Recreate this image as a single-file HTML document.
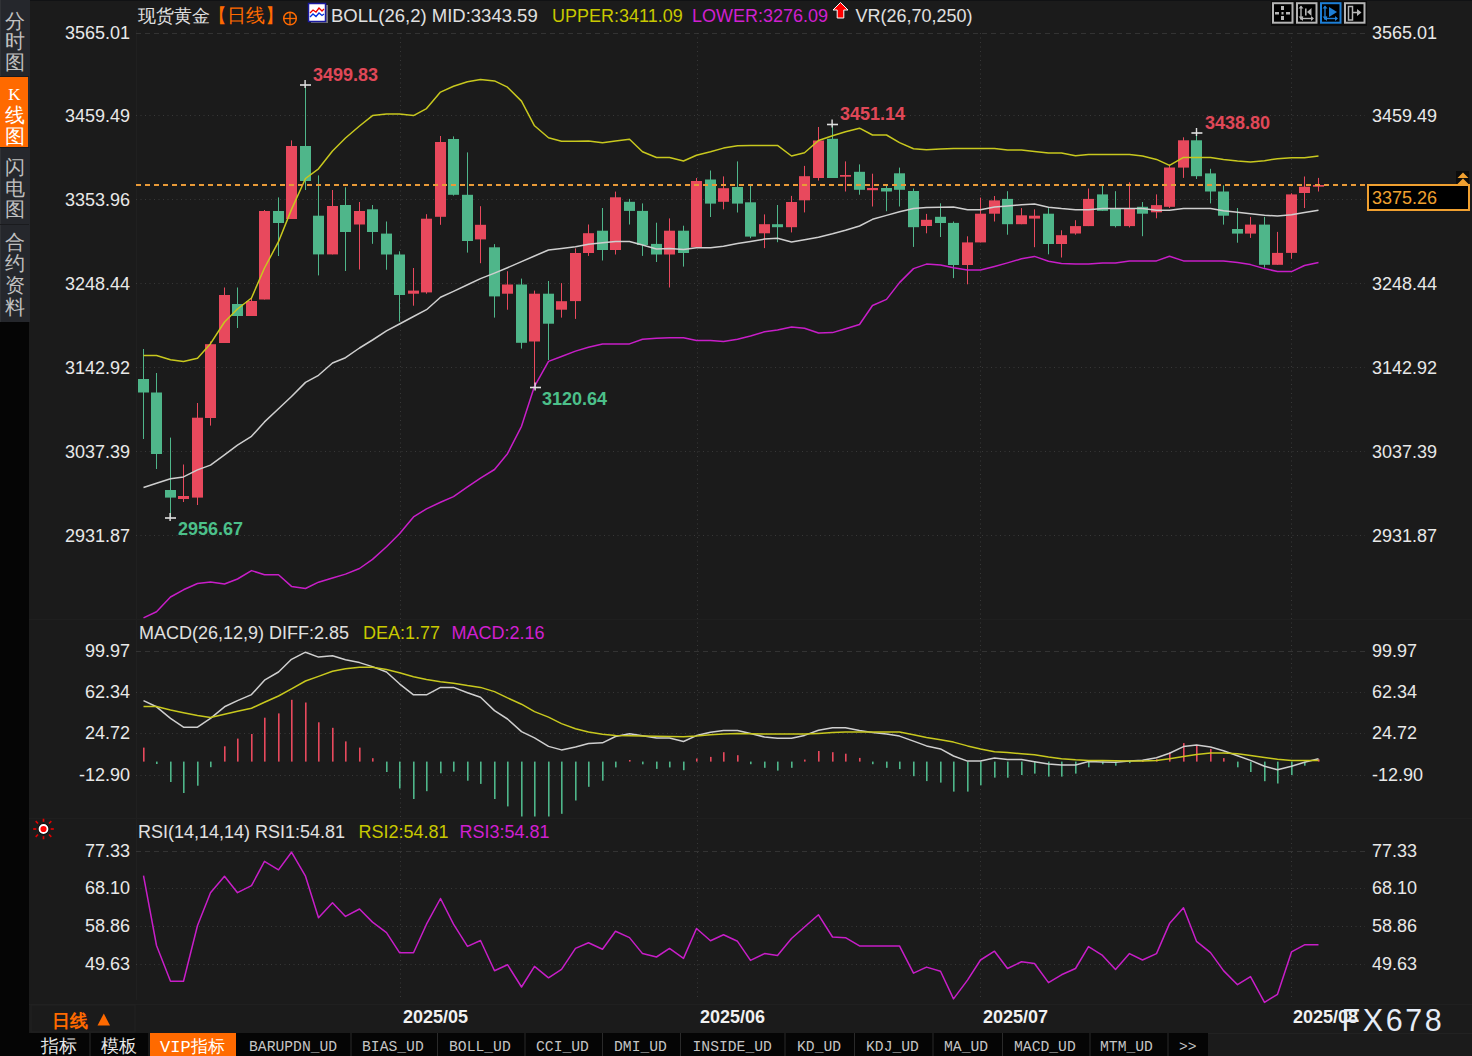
<!DOCTYPE html>
<html><head><meta charset="utf-8"><style>
html,body{margin:0;padding:0;background:#1b1b1b;width:1472px;height:1056px;overflow:hidden}
svg{display:block;font-family:"Liberation Sans", sans-serif}
</style></head><body>
<svg width="1472" height="1056" viewBox="0 0 1472 1056">
<rect x="0" y="0" width="1472" height="1056" fill="#1b1b1b"/>
<rect x="0" y="0" width="1472" height="1" fill="#111214"/>
<rect x="0" y="0" width="30" height="322" fill="#25272c"/>
<rect x="0" y="0" width="1" height="322" fill="#303236"/>
<rect x="0" y="322" width="29" height="734" fill="#050505"/>
<rect x="0" y="76" width="29" height="1" fill="#1a1b1e"/>
<rect x="0" y="147" width="29" height="1" fill="#1a1b1e"/>
<rect x="0" y="224" width="29" height="1" fill="#1a1b1e"/>
<rect x="0" y="77" width="28" height="70" fill="#ff6a00"/>
<text x="14.5" y="27.6" font-size="20" fill="#c0c0c0" text-anchor="middle">分</text>
<text x="14.5" y="48.4" font-size="20" fill="#c0c0c0" text-anchor="middle">时</text>
<text x="14.5" y="69.4" font-size="20" fill="#c0c0c0" text-anchor="middle">图</text>
<text x="14.5" y="121.8" font-size="20" fill="#ffffff" text-anchor="middle">线</text>
<text x="14.5" y="142.8" font-size="20" fill="#ffffff" text-anchor="middle">图</text>
<text x="14.5" y="99.5" font-size="17" fill="#ffffff" text-anchor="middle" font-family="Liberation Serif, serif">K</text>
<text x="14.5" y="173.8" font-size="20" fill="#c0c0c0" text-anchor="middle">闪</text>
<text x="14.5" y="194.8" font-size="20" fill="#c0c0c0" text-anchor="middle">电</text>
<text x="14.5" y="215.8" font-size="20" fill="#c0c0c0" text-anchor="middle">图</text>
<text x="14.5" y="249.2" font-size="20" fill="#c0c0c0" text-anchor="middle">合</text>
<text x="14.5" y="270.4" font-size="20" fill="#c0c0c0" text-anchor="middle">约</text>
<text x="14.5" y="291.8" font-size="20" fill="#c0c0c0" text-anchor="middle">资</text>
<text x="14.5" y="314.2" font-size="20" fill="#c0c0c0" text-anchor="middle">料</text>
<rect x="136" y="30" width="1" height="970" fill="#202020"/>
<rect x="29" y="619" width="1443" height="1" fill="#1f1f1f"/>
<rect x="29" y="818" width="1443" height="1" fill="#1f1f1f"/>
<rect x="29" y="1004" width="1443" height="1" fill="#202020"/>
<rect x="1208" y="1033" width="264" height="1" fill="#222"/>
<line x1="136" y1="33.5" x2="1365" y2="33.5" stroke="#333" stroke-width="1" stroke-dasharray="5 4"/>
<line x1="136" y1="115.5" x2="1365" y2="115.5" stroke="#383838" stroke-width="1" stroke-dasharray="1 3.5"/>
<line x1="136" y1="199.5" x2="1365" y2="199.5" stroke="#383838" stroke-width="1" stroke-dasharray="1 3.5"/>
<line x1="136" y1="283.5" x2="1365" y2="283.5" stroke="#383838" stroke-width="1" stroke-dasharray="1 3.5"/>
<line x1="136" y1="367.5" x2="1365" y2="367.5" stroke="#383838" stroke-width="1" stroke-dasharray="1 3.5"/>
<line x1="136" y1="451.5" x2="1365" y2="451.5" stroke="#383838" stroke-width="1" stroke-dasharray="1 3.5"/>
<line x1="136" y1="535.5" x2="1365" y2="535.5" stroke="#383838" stroke-width="1" stroke-dasharray="1 3.5"/>
<line x1="136" y1="651.5" x2="1365" y2="651.5" stroke="#333" stroke-width="1" stroke-dasharray="5 4"/>
<line x1="136" y1="692.5" x2="1365" y2="692.5" stroke="#383838" stroke-width="1" stroke-dasharray="1 3.5"/>
<line x1="136" y1="733.5" x2="1365" y2="733.5" stroke="#383838" stroke-width="1" stroke-dasharray="1 3.5"/>
<line x1="136" y1="775.5" x2="1365" y2="775.5" stroke="#383838" stroke-width="1" stroke-dasharray="1 3.5"/>
<line x1="136" y1="851.5" x2="1365" y2="851.5" stroke="#333" stroke-width="1" stroke-dasharray="5 4"/>
<line x1="136" y1="888.5" x2="1365" y2="888.5" stroke="#383838" stroke-width="1" stroke-dasharray="1 3.5"/>
<line x1="136" y1="926.5" x2="1365" y2="926.5" stroke="#383838" stroke-width="1" stroke-dasharray="1 3.5"/>
<line x1="136" y1="964.5" x2="1365" y2="964.5" stroke="#383838" stroke-width="1" stroke-dasharray="1 3.5"/>
<line x1="400.5" y1="33" x2="400.5" y2="1000" stroke="#383838" stroke-width="1" stroke-dasharray="1 3.5"/>
<line x1="697.5" y1="33" x2="697.5" y2="1000" stroke="#383838" stroke-width="1" stroke-dasharray="1 3.5"/>
<line x1="980.5" y1="33" x2="980.5" y2="1000" stroke="#383838" stroke-width="1" stroke-dasharray="1 3.5"/>
<line x1="1291.5" y1="33" x2="1291.5" y2="1000" stroke="#383838" stroke-width="1" stroke-dasharray="1 3.5"/>
<rect x="143" y="349.0" width="1" height="90.0" fill="#4fb68a"/>
<rect x="138" y="379.0" width="11" height="13.5" fill="#4fb68a"/>
<rect x="156" y="373.0" width="1" height="96.0" fill="#4fb68a"/>
<rect x="151" y="392.5" width="11" height="61.5" fill="#4fb68a"/>
<rect x="170" y="437.6" width="1" height="80.4" fill="#4fb68a"/>
<rect x="165" y="490.0" width="11" height="7.6" fill="#4fb68a"/>
<rect x="183" y="464.5" width="1" height="37.5" fill="#e8495d"/>
<rect x="178" y="496.0" width="11" height="3.0" fill="#e8495d"/>
<rect x="197" y="403.0" width="1" height="102.0" fill="#e8495d"/>
<rect x="192" y="417.7" width="11" height="79.9" fill="#e8495d"/>
<rect x="210" y="341.4" width="1" height="84.2" fill="#e8495d"/>
<rect x="205" y="344.2" width="11" height="73.8" fill="#e8495d"/>
<rect x="224" y="287.5" width="1" height="55.5" fill="#e8495d"/>
<rect x="219" y="295.0" width="11" height="48.0" fill="#e8495d"/>
<rect x="237" y="287.5" width="1" height="40.5" fill="#4fb68a"/>
<rect x="232" y="304.0" width="11" height="12.0" fill="#4fb68a"/>
<rect x="251" y="298.0" width="1" height="18.0" fill="#e8495d"/>
<rect x="246" y="301.0" width="11" height="15.0" fill="#e8495d"/>
<rect x="264" y="210.0" width="1" height="89.5" fill="#e8495d"/>
<rect x="259" y="211.0" width="11" height="88.5" fill="#e8495d"/>
<rect x="278" y="197.4" width="1" height="58.6" fill="#4fb68a"/>
<rect x="273" y="211.0" width="11" height="12.0" fill="#4fb68a"/>
<rect x="291" y="140.4" width="1" height="78.6" fill="#e8495d"/>
<rect x="286" y="146.0" width="11" height="73.0" fill="#e8495d"/>
<rect x="305" y="85.0" width="1" height="105.0" fill="#4fb68a"/>
<rect x="300" y="146.0" width="11" height="35.0" fill="#4fb68a"/>
<rect x="318" y="175.4" width="1" height="100.0" fill="#4fb68a"/>
<rect x="313" y="215.7" width="11" height="38.7" fill="#4fb68a"/>
<rect x="332" y="190.0" width="1" height="64.4" fill="#e8495d"/>
<rect x="327" y="206.0" width="11" height="48.4" fill="#e8495d"/>
<rect x="345" y="187.3" width="1" height="83.7" fill="#4fb68a"/>
<rect x="340" y="205.0" width="11" height="27.0" fill="#4fb68a"/>
<rect x="359" y="202.0" width="1" height="67.5" fill="#e8495d"/>
<rect x="354" y="211.0" width="11" height="13.5" fill="#e8495d"/>
<rect x="372" y="205.0" width="1" height="38.8" fill="#4fb68a"/>
<rect x="367" y="209.3" width="11" height="22.7" fill="#4fb68a"/>
<rect x="386" y="221.5" width="1" height="48.2" fill="#4fb68a"/>
<rect x="381" y="233.6" width="11" height="20.9" fill="#4fb68a"/>
<rect x="399" y="251.3" width="1" height="70.3" fill="#4fb68a"/>
<rect x="394" y="254.5" width="11" height="40.5" fill="#4fb68a"/>
<rect x="413" y="268.0" width="1" height="37.7" fill="#e8495d"/>
<rect x="408" y="290.6" width="11" height="3.1" fill="#e8495d"/>
<rect x="426" y="214.2" width="1" height="79.5" fill="#e8495d"/>
<rect x="421" y="218.7" width="11" height="73.7" fill="#e8495d"/>
<rect x="440" y="136.0" width="1" height="88.8" fill="#e8495d"/>
<rect x="435" y="142.0" width="11" height="74.8" fill="#e8495d"/>
<rect x="453" y="136.4" width="1" height="59.2" fill="#4fb68a"/>
<rect x="448" y="139.0" width="11" height="55.8" fill="#4fb68a"/>
<rect x="467" y="152.4" width="1" height="100.2" fill="#4fb68a"/>
<rect x="462" y="194.8" width="11" height="46.2" fill="#4fb68a"/>
<rect x="480" y="206.2" width="1" height="57.0" fill="#e8495d"/>
<rect x="475" y="224.8" width="11" height="14.6" fill="#e8495d"/>
<rect x="494" y="244.1" width="1" height="73.5" fill="#4fb68a"/>
<rect x="489" y="247.3" width="11" height="49.1" fill="#4fb68a"/>
<rect x="507" y="271.2" width="1" height="38.5" fill="#e8495d"/>
<rect x="502" y="284.5" width="11" height="9.2" fill="#e8495d"/>
<rect x="521" y="278.6" width="1" height="70.0" fill="#4fb68a"/>
<rect x="516" y="284.5" width="11" height="58.3" fill="#4fb68a"/>
<rect x="534" y="290.6" width="1" height="96.7" fill="#e8495d"/>
<rect x="529" y="293.7" width="11" height="47.8" fill="#e8495d"/>
<rect x="548" y="281.0" width="1" height="79.0" fill="#4fb68a"/>
<rect x="543" y="293.7" width="11" height="30.0" fill="#4fb68a"/>
<rect x="561" y="283.1" width="1" height="34.5" fill="#e8495d"/>
<rect x="556" y="301.2" width="11" height="8.5" fill="#e8495d"/>
<rect x="575" y="248.4" width="1" height="70.5" fill="#e8495d"/>
<rect x="570" y="253.0" width="11" height="48.1" fill="#e8495d"/>
<rect x="588" y="224.5" width="1" height="31.4" fill="#e8495d"/>
<rect x="583" y="233.2" width="11" height="19.8" fill="#e8495d"/>
<rect x="602" y="208.0" width="1" height="52.5" fill="#4fb68a"/>
<rect x="597" y="230.7" width="11" height="19.3" fill="#4fb68a"/>
<rect x="615" y="191.6" width="1" height="62.9" fill="#e8495d"/>
<rect x="610" y="197.3" width="11" height="52.7" fill="#e8495d"/>
<rect x="629" y="198.9" width="1" height="25.6" fill="#4fb68a"/>
<rect x="624" y="201.8" width="11" height="9.1" fill="#4fb68a"/>
<rect x="642" y="203.4" width="1" height="52.5" fill="#4fb68a"/>
<rect x="637" y="210.9" width="11" height="34.1" fill="#4fb68a"/>
<rect x="656" y="222.7" width="1" height="39.3" fill="#4fb68a"/>
<rect x="651" y="243.9" width="11" height="10.6" fill="#4fb68a"/>
<rect x="669" y="218.4" width="1" height="69.1" fill="#e8495d"/>
<rect x="664" y="230.7" width="11" height="23.8" fill="#e8495d"/>
<rect x="683" y="225.7" width="1" height="40.9" fill="#4fb68a"/>
<rect x="678" y="230.7" width="11" height="22.3" fill="#4fb68a"/>
<rect x="696" y="178.0" width="1" height="69.3" fill="#e8495d"/>
<rect x="691" y="181.0" width="11" height="66.3" fill="#e8495d"/>
<rect x="710" y="170.5" width="1" height="46.5" fill="#4fb68a"/>
<rect x="705" y="179.5" width="11" height="24.1" fill="#4fb68a"/>
<rect x="723" y="176.4" width="1" height="32.9" fill="#e8495d"/>
<rect x="718" y="188.2" width="11" height="13.6" fill="#e8495d"/>
<rect x="737" y="161.4" width="1" height="51.1" fill="#4fb68a"/>
<rect x="732" y="187.0" width="11" height="16.6" fill="#4fb68a"/>
<rect x="750" y="184.8" width="1" height="53.4" fill="#4fb68a"/>
<rect x="745" y="202.3" width="11" height="34.3" fill="#4fb68a"/>
<rect x="764" y="214.4" width="1" height="33.7" fill="#e8495d"/>
<rect x="759" y="224.2" width="11" height="9.1" fill="#e8495d"/>
<rect x="777" y="205.0" width="1" height="37.2" fill="#4fb68a"/>
<rect x="772" y="224.2" width="11" height="3.0" fill="#4fb68a"/>
<rect x="791" y="195.9" width="1" height="36.5" fill="#e8495d"/>
<rect x="786" y="202.0" width="11" height="25.2" fill="#e8495d"/>
<rect x="804" y="165.9" width="1" height="46.5" fill="#e8495d"/>
<rect x="799" y="176.2" width="11" height="24.1" fill="#e8495d"/>
<rect x="818" y="127.0" width="1" height="53.6" fill="#e8495d"/>
<rect x="813" y="140.5" width="11" height="37.5" fill="#e8495d"/>
<rect x="832" y="124.5" width="1" height="53.5" fill="#4fb68a"/>
<rect x="827" y="138.8" width="11" height="39.2" fill="#4fb68a"/>
<rect x="845" y="161.4" width="1" height="30.1" fill="#e8495d"/>
<rect x="840" y="175.0" width="11" height="1.7" fill="#e8495d"/>
<rect x="859" y="164.4" width="1" height="30.3" fill="#4fb68a"/>
<rect x="854" y="171.8" width="11" height="18.0" fill="#4fb68a"/>
<rect x="872" y="173.7" width="1" height="32.8" fill="#e8495d"/>
<rect x="867" y="188.0" width="11" height="2.2" fill="#e8495d"/>
<rect x="886" y="184.8" width="1" height="26.4" fill="#4fb68a"/>
<rect x="881" y="188.0" width="11" height="3.5" fill="#4fb68a"/>
<rect x="899" y="167.6" width="1" height="38.9" fill="#4fb68a"/>
<rect x="894" y="173.3" width="11" height="16.5" fill="#4fb68a"/>
<rect x="913" y="188.5" width="1" height="58.4" fill="#4fb68a"/>
<rect x="908" y="191.0" width="11" height="36.2" fill="#4fb68a"/>
<rect x="926" y="213.9" width="1" height="19.4" fill="#e8495d"/>
<rect x="921" y="219.8" width="11" height="6.2" fill="#e8495d"/>
<rect x="940" y="203.3" width="1" height="33.7" fill="#4fb68a"/>
<rect x="935" y="216.8" width="11" height="6.2" fill="#4fb68a"/>
<rect x="953" y="221.5" width="1" height="56.6" fill="#4fb68a"/>
<rect x="948" y="222.9" width="11" height="42.1" fill="#4fb68a"/>
<rect x="967" y="236.3" width="1" height="48.0" fill="#e8495d"/>
<rect x="962" y="242.4" width="11" height="22.6" fill="#e8495d"/>
<rect x="980" y="197.6" width="1" height="44.8" fill="#e8495d"/>
<rect x="975" y="213.7" width="11" height="28.7" fill="#e8495d"/>
<rect x="994" y="196.0" width="1" height="25.5" fill="#e8495d"/>
<rect x="989" y="200.4" width="11" height="13.3" fill="#e8495d"/>
<rect x="1007" y="191.2" width="1" height="43.5" fill="#4fb68a"/>
<rect x="1002" y="198.9" width="11" height="25.3" fill="#4fb68a"/>
<rect x="1021" y="208.1" width="1" height="16.1" fill="#e8495d"/>
<rect x="1016" y="215.3" width="11" height="8.9" fill="#e8495d"/>
<rect x="1034" y="209.4" width="1" height="37.8" fill="#e8495d"/>
<rect x="1029" y="215.7" width="11" height="2.9" fill="#e8495d"/>
<rect x="1048" y="208.1" width="1" height="46.2" fill="#4fb68a"/>
<rect x="1043" y="213.7" width="11" height="30.3" fill="#4fb68a"/>
<rect x="1061" y="230.3" width="1" height="27.2" fill="#e8495d"/>
<rect x="1056" y="235.2" width="11" height="8.8" fill="#e8495d"/>
<rect x="1075" y="220.2" width="1" height="14.5" fill="#e8495d"/>
<rect x="1070" y="226.1" width="11" height="7.4" fill="#e8495d"/>
<rect x="1088" y="188.5" width="1" height="37.6" fill="#e8495d"/>
<rect x="1083" y="198.9" width="11" height="27.2" fill="#e8495d"/>
<rect x="1102" y="184.8" width="1" height="26.0" fill="#4fb68a"/>
<rect x="1097" y="194.4" width="11" height="16.4" fill="#4fb68a"/>
<rect x="1115" y="191.2" width="1" height="36.2" fill="#4fb68a"/>
<rect x="1110" y="208.4" width="11" height="17.7" fill="#4fb68a"/>
<rect x="1129" y="182.3" width="1" height="45.1" fill="#e8495d"/>
<rect x="1124" y="208.4" width="11" height="17.7" fill="#e8495d"/>
<rect x="1142" y="202.0" width="1" height="34.2" fill="#4fb68a"/>
<rect x="1137" y="206.8" width="11" height="6.9" fill="#4fb68a"/>
<rect x="1156" y="194.4" width="1" height="23.9" fill="#e8495d"/>
<rect x="1151" y="205.1" width="11" height="7.2" fill="#e8495d"/>
<rect x="1169" y="164.6" width="1" height="43.4" fill="#e8495d"/>
<rect x="1164" y="167.5" width="11" height="39.3" fill="#e8495d"/>
<rect x="1183" y="137.3" width="1" height="40.6" fill="#e8495d"/>
<rect x="1178" y="140.3" width="11" height="27.3" fill="#e8495d"/>
<rect x="1196" y="133.0" width="1" height="46.0" fill="#4fb68a"/>
<rect x="1191" y="140.3" width="11" height="35.9" fill="#4fb68a"/>
<rect x="1210" y="168.8" width="1" height="34.6" fill="#4fb68a"/>
<rect x="1205" y="173.4" width="11" height="18.1" fill="#4fb68a"/>
<rect x="1223" y="185.4" width="1" height="39.2" fill="#4fb68a"/>
<rect x="1218" y="191.5" width="11" height="24.2" fill="#4fb68a"/>
<rect x="1237" y="208.0" width="1" height="34.7" fill="#4fb68a"/>
<rect x="1232" y="229.0" width="11" height="4.6" fill="#4fb68a"/>
<rect x="1250" y="216.9" width="1" height="21.0" fill="#e8495d"/>
<rect x="1245" y="224.6" width="11" height="9.0" fill="#e8495d"/>
<rect x="1264" y="216.9" width="1" height="50.8" fill="#4fb68a"/>
<rect x="1259" y="224.6" width="11" height="40.2" fill="#4fb68a"/>
<rect x="1277" y="231.9" width="1" height="32.9" fill="#e8495d"/>
<rect x="1272" y="252.9" width="11" height="11.9" fill="#e8495d"/>
<rect x="1291" y="193.2" width="1" height="65.5" fill="#e8495d"/>
<rect x="1286" y="194.4" width="11" height="58.5" fill="#e8495d"/>
<rect x="1304" y="176.5" width="1" height="31.5" fill="#e8495d"/>
<rect x="1299" y="186.7" width="11" height="6.3" fill="#e8495d"/>
<rect x="1318" y="177.9" width="1" height="13.6" fill="#e8495d"/>
<rect x="1313" y="185.0" width="11" height="1.7" fill="#e8495d"/>
<polyline points="143.5,355.5 156.5,355.5 170.5,359.8 183.5,361.6 197.5,358.2 210.5,343.7 224.5,322.0 237.5,309.0 251.5,298.0 264.5,268.0 278.5,241.7 291.5,209.4 305.5,178.5 318.5,168.8 332.5,151.0 345.5,138.0 359.5,126.0 372.5,115.6 386.5,114.1 399.5,114.1 413.5,115.6 426.5,108.6 440.5,92.1 453.5,86.2 467.5,81.8 480.5,79.4 494.5,80.9 507.5,87.2 521.5,101.1 534.5,125.8 548.5,137.7 561.5,141.2 575.5,141.2 588.5,141.1 602.5,142.7 615.5,141.0 629.5,139.3 642.5,151.8 656.5,157.5 669.5,157.5 683.5,161.0 696.5,155.2 710.5,151.7 723.5,148.1 737.5,145.7 750.5,145.6 764.5,145.5 777.5,145.4 791.5,156.0 804.5,152.8 818.5,140.5 832.5,135.7 845.5,131.8 859.5,128.2 872.5,135.0 886.5,135.0 899.5,142.6 913.5,148.8 926.5,149.7 940.5,148.9 953.5,148.5 967.5,148.5 980.5,148.5 994.5,148.5 1007.5,150.1 1021.5,150.1 1034.5,151.4 1048.5,153.0 1061.5,153.0 1075.5,155.8 1088.5,154.5 1102.5,154.5 1115.5,154.5 1129.5,154.5 1142.5,156.0 1156.5,159.4 1169.5,165.4 1183.5,157.4 1196.5,157.4 1210.5,157.4 1223.5,159.4 1237.5,160.9 1250.5,162.0 1264.5,160.7 1277.5,158.7 1291.5,157.7 1304.5,157.7 1318.5,156.0" fill="none" stroke="#c8c81e" stroke-width="1.5" stroke-linejoin="round"/>
<polyline points="143.5,487.5 156.5,483.2 170.5,478.7 183.5,476.9 197.5,469.9 210.5,465.1 224.5,454.8 237.5,445.1 251.5,436.3 264.5,421.9 278.5,408.8 291.5,396.5 305.5,382.4 318.5,375.3 332.5,363.0 345.5,357.7 359.5,348.0 372.5,340.0 386.5,330.9 399.5,324.0 413.5,316.5 426.5,309.7 440.5,297.2 453.5,291.4 467.5,284.8 480.5,278.6 494.5,273.1 507.5,267.7 521.5,261.6 534.5,256.0 548.5,250.0 561.5,248.6 575.5,246.8 588.5,244.3 602.5,242.7 615.5,241.6 629.5,241.6 642.5,245.0 656.5,249.0 669.5,248.4 683.5,249.5 696.5,247.7 710.5,247.7 723.5,246.3 737.5,243.6 750.5,241.4 764.5,239.1 777.5,238.3 791.5,242.0 804.5,239.8 818.5,237.2 832.5,233.8 845.5,230.3 859.5,226.0 872.5,219.3 886.5,215.4 899.5,211.7 913.5,208.5 926.5,207.5 940.5,207.3 953.5,207.0 967.5,209.7 980.5,209.7 994.5,206.9 1007.5,205.9 1021.5,204.7 1034.5,204.0 1048.5,207.2 1061.5,208.6 1075.5,209.7 1088.5,209.7 1102.5,208.6 1115.5,208.6 1129.5,208.6 1142.5,208.6 1156.5,210.3 1169.5,210.3 1183.5,208.6 1196.5,208.6 1210.5,208.6 1223.5,210.8 1237.5,212.3 1250.5,213.7 1264.5,215.2 1277.5,216.0 1291.5,214.7 1304.5,212.4 1318.5,210.3" fill="none" stroke="#cfcfcf" stroke-width="1.5" stroke-linejoin="round"/>
<polyline points="143.5,617.9 156.5,611.7 170.5,597.0 183.5,589.8 197.5,583.5 210.5,581.9 224.5,584.0 237.5,579.0 251.5,570.6 264.5,574.8 278.5,574.8 291.5,586.4 305.5,588.5 318.5,582.2 332.5,578.0 345.5,574.1 359.5,568.5 372.5,559.4 386.5,546.8 399.5,533.8 413.5,516.9 426.5,508.9 440.5,502.2 453.5,496.6 467.5,486.9 480.5,478.1 494.5,469.5 507.5,453.7 521.5,426.3 534.5,386.3 548.5,361.4 561.5,356.5 575.5,351.1 588.5,347.3 602.5,343.9 615.5,343.9 629.5,343.9 642.5,339.3 656.5,338.3 669.5,337.7 683.5,337.7 696.5,340.5 710.5,340.5 723.5,341.4 737.5,339.3 750.5,336.0 764.5,331.8 777.5,330.1 791.5,327.0 804.5,328.2 818.5,333.0 832.5,332.6 845.5,328.7 859.5,324.5 872.5,305.5 886.5,299.4 899.5,282.6 913.5,268.6 926.5,264.1 940.5,265.0 953.5,267.7 967.5,270.1 980.5,270.1 994.5,266.4 1007.5,262.9 1021.5,258.8 1034.5,256.4 1048.5,261.2 1061.5,263.4 1075.5,264.0 1088.5,264.0 1102.5,262.9 1115.5,262.9 1129.5,261.1 1142.5,261.0 1156.5,260.9 1169.5,256.3 1183.5,260.9 1196.5,260.9 1210.5,260.9 1223.5,260.9 1237.5,262.6 1250.5,264.6 1264.5,268.6 1277.5,271.6 1291.5,271.6 1304.5,265.5 1318.5,262.6" fill="none" stroke="#c81ec8" stroke-width="1.5" stroke-linejoin="round"/>
<line x1="136" y1="185" x2="1367" y2="185" stroke="#e89a38" stroke-width="2" stroke-dasharray="5 4"/>
<rect x="300" y="84.2" width="11" height="1.6" fill="#e0e0e0"/>
<rect x="304.4" y="80" width="1.4" height="8" fill="#e0e0e0"/>
<rect x="827" y="123.7" width="11" height="1.6" fill="#e0e0e0"/>
<rect x="831.4" y="119.5" width="1.4" height="8" fill="#e0e0e0"/>
<rect x="1191.4" y="132.2" width="11" height="1.6" fill="#e0e0e0"/>
<rect x="1195.8000000000002" y="128" width="1.4" height="8" fill="#e0e0e0"/>
<rect x="165" y="517.2" width="11" height="1.6" fill="#e0e0e0"/>
<rect x="169.4" y="513" width="1.4" height="8" fill="#e0e0e0"/>
<rect x="530" y="386.7" width="11" height="1.6" fill="#e0e0e0"/>
<rect x="534.4" y="382.5" width="1.4" height="8" fill="#e0e0e0"/>
<text x="313" y="81" font-size="18" font-weight="bold" fill="#e04858">3499.83</text>
<text x="840" y="120" font-size="18" font-weight="bold" fill="#e04858">3451.14</text>
<text x="1205" y="128.5" font-size="18" font-weight="bold" fill="#e04858">3438.80</text>
<text x="178" y="535" font-size="18" font-weight="bold" fill="#4cc08a">2956.67</text>
<text x="542" y="404.5" font-size="18" font-weight="bold" fill="#4cc08a">3120.64</text>
<rect x="143" y="747.6" width="1.6" height="14.0" fill="#e8495d"/>
<rect x="156" y="761.6" width="1.6" height="2.4" fill="#4fb68a"/>
<rect x="170" y="761.6" width="1.6" height="20.4" fill="#4fb68a"/>
<rect x="183" y="761.6" width="1.6" height="31.4" fill="#4fb68a"/>
<rect x="197" y="761.6" width="1.6" height="24.1" fill="#4fb68a"/>
<rect x="210" y="761.6" width="1.6" height="5.6" fill="#4fb68a"/>
<rect x="224" y="746.3" width="1.6" height="15.3" fill="#e8495d"/>
<rect x="237" y="738.6" width="1.6" height="23.0" fill="#e8495d"/>
<rect x="251" y="734.0" width="1.6" height="27.6" fill="#e8495d"/>
<rect x="264" y="717.7" width="1.6" height="43.9" fill="#e8495d"/>
<rect x="278" y="713.4" width="1.6" height="48.2" fill="#e8495d"/>
<rect x="291" y="699.8" width="1.6" height="61.8" fill="#e8495d"/>
<rect x="305" y="702.5" width="1.6" height="59.1" fill="#e8495d"/>
<rect x="318" y="722.3" width="1.6" height="39.3" fill="#e8495d"/>
<rect x="332" y="727.8" width="1.6" height="33.8" fill="#e8495d"/>
<rect x="345" y="741.4" width="1.6" height="20.2" fill="#e8495d"/>
<rect x="359" y="747.6" width="1.6" height="14.0" fill="#e8495d"/>
<rect x="372" y="758.2" width="1.6" height="3.4" fill="#e8495d"/>
<rect x="386" y="761.6" width="1.6" height="10.4" fill="#4fb68a"/>
<rect x="399" y="761.6" width="1.6" height="26.9" fill="#4fb68a"/>
<rect x="413" y="761.6" width="1.6" height="37.4" fill="#4fb68a"/>
<rect x="426" y="761.6" width="1.6" height="29.6" fill="#4fb68a"/>
<rect x="440" y="761.6" width="1.6" height="11.7" fill="#4fb68a"/>
<rect x="453" y="761.6" width="1.6" height="10.0" fill="#4fb68a"/>
<rect x="467" y="761.6" width="1.6" height="19.1" fill="#4fb68a"/>
<rect x="480" y="761.6" width="1.6" height="22.3" fill="#4fb68a"/>
<rect x="494" y="761.6" width="1.6" height="37.4" fill="#4fb68a"/>
<rect x="507" y="761.6" width="1.6" height="44.8" fill="#4fb68a"/>
<rect x="521" y="761.6" width="1.6" height="54.9" fill="#4fb68a"/>
<rect x="534" y="761.6" width="1.6" height="54.9" fill="#4fb68a"/>
<rect x="548" y="761.6" width="1.6" height="54.9" fill="#4fb68a"/>
<rect x="561" y="761.6" width="1.6" height="52.2" fill="#4fb68a"/>
<rect x="575" y="761.6" width="1.6" height="38.9" fill="#4fb68a"/>
<rect x="588" y="761.6" width="1.6" height="25.2" fill="#4fb68a"/>
<rect x="602" y="761.6" width="1.6" height="19.1" fill="#4fb68a"/>
<rect x="615" y="761.6" width="1.6" height="5.8" fill="#4fb68a"/>
<rect x="629" y="760.0" width="1.6" height="1.6" fill="#e8495d"/>
<rect x="642" y="761.6" width="1.6" height="2.7" fill="#4fb68a"/>
<rect x="656" y="761.6" width="1.6" height="7.3" fill="#4fb68a"/>
<rect x="669" y="761.6" width="1.6" height="5.8" fill="#4fb68a"/>
<rect x="683" y="761.6" width="1.6" height="8.6" fill="#4fb68a"/>
<rect x="696" y="758.5" width="1.6" height="3.1" fill="#e8495d"/>
<rect x="710" y="756.9" width="1.6" height="4.7" fill="#e8495d"/>
<rect x="723" y="752.2" width="1.6" height="9.4" fill="#e8495d"/>
<rect x="737" y="755.2" width="1.6" height="6.4" fill="#e8495d"/>
<rect x="750" y="761.6" width="1.6" height="2.6" fill="#4fb68a"/>
<rect x="764" y="761.6" width="1.6" height="6.2" fill="#4fb68a"/>
<rect x="777" y="761.6" width="1.6" height="9.0" fill="#4fb68a"/>
<rect x="791" y="761.6" width="1.6" height="6.2" fill="#4fb68a"/>
<rect x="804" y="759.6" width="1.6" height="2.0" fill="#e8495d"/>
<rect x="818" y="751.0" width="1.6" height="10.6" fill="#e8495d"/>
<rect x="832" y="752.2" width="1.6" height="9.4" fill="#e8495d"/>
<rect x="845" y="753.7" width="1.6" height="7.9" fill="#e8495d"/>
<rect x="859" y="757.9" width="1.6" height="3.7" fill="#e8495d"/>
<rect x="872" y="761.6" width="1.6" height="2.6" fill="#4fb68a"/>
<rect x="886" y="761.6" width="1.6" height="6.2" fill="#4fb68a"/>
<rect x="899" y="761.6" width="1.6" height="7.5" fill="#4fb68a"/>
<rect x="913" y="761.6" width="1.6" height="14.6" fill="#4fb68a"/>
<rect x="926" y="761.6" width="1.6" height="19.5" fill="#4fb68a"/>
<rect x="940" y="761.6" width="1.6" height="21.0" fill="#4fb68a"/>
<rect x="953" y="761.6" width="1.6" height="30.0" fill="#4fb68a"/>
<rect x="967" y="761.6" width="1.6" height="30.0" fill="#4fb68a"/>
<rect x="980" y="761.6" width="1.6" height="23.7" fill="#4fb68a"/>
<rect x="994" y="761.6" width="1.6" height="16.0" fill="#4fb68a"/>
<rect x="1007" y="761.6" width="1.6" height="16.1" fill="#4fb68a"/>
<rect x="1021" y="761.6" width="1.6" height="13.4" fill="#4fb68a"/>
<rect x="1034" y="761.6" width="1.6" height="12.0" fill="#4fb68a"/>
<rect x="1048" y="761.6" width="1.6" height="15.0" fill="#4fb68a"/>
<rect x="1061" y="761.6" width="1.6" height="15.0" fill="#4fb68a"/>
<rect x="1075" y="761.6" width="1.6" height="12.0" fill="#4fb68a"/>
<rect x="1088" y="761.6" width="1.6" height="5.7" fill="#4fb68a"/>
<rect x="1102" y="761.6" width="1.6" height="2.7" fill="#4fb68a"/>
<rect x="1115" y="761.6" width="1.6" height="4.1" fill="#4fb68a"/>
<rect x="1129" y="761.6" width="1.6" height="1.5" fill="#4fb68a"/>
<rect x="1142" y="760.5" width="1.6" height="1.5" fill="#e8495d"/>
<rect x="1156" y="759.3" width="1.6" height="2.3" fill="#e8495d"/>
<rect x="1169" y="752.3" width="1.6" height="9.3" fill="#e8495d"/>
<rect x="1183" y="743.1" width="1.6" height="18.5" fill="#e8495d"/>
<rect x="1196" y="744.9" width="1.6" height="16.7" fill="#e8495d"/>
<rect x="1210" y="748.9" width="1.6" height="12.7" fill="#e8495d"/>
<rect x="1223" y="758.1" width="1.6" height="3.5" fill="#e8495d"/>
<rect x="1237" y="761.6" width="1.6" height="5.7" fill="#4fb68a"/>
<rect x="1250" y="761.6" width="1.6" height="10.4" fill="#4fb68a"/>
<rect x="1264" y="761.6" width="1.6" height="19.6" fill="#4fb68a"/>
<rect x="1277" y="761.6" width="1.6" height="21.9" fill="#4fb68a"/>
<rect x="1291" y="761.6" width="1.6" height="13.4" fill="#4fb68a"/>
<rect x="1304" y="761.6" width="1.6" height="4.1" fill="#4fb68a"/>
<rect x="1318" y="759.3" width="1.6" height="2.3" fill="#e8495d"/>
<polyline points="143.5,700.6 156.5,706.8 170.5,718.3 183.5,727.2 197.5,727.2 210.5,718.3 224.5,706.8 237.5,700.6 251.5,694.6 264.5,680.2 278.5,672.0 291.5,659.3 305.5,652.2 318.5,657.1 332.5,655.8 345.5,659.8 359.5,662.6 372.5,666.6 386.5,672.0 399.5,683.8 413.5,694.8 426.5,694.8 440.5,687.4 453.5,687.4 467.5,692.7 480.5,697.3 494.5,710.6 507.5,719.0 521.5,731.6 534.5,737.9 548.5,746.4 561.5,749.9 575.5,747.0 588.5,743.6 602.5,742.8 615.5,736.5 629.5,733.7 642.5,735.8 656.5,737.9 669.5,737.9 683.5,741.5 696.5,735.6 710.5,732.2 723.5,730.5 737.5,730.5 750.5,733.6 764.5,737.0 777.5,738.3 791.5,738.3 804.5,735.4 818.5,730.3 832.5,727.8 845.5,727.8 859.5,730.5 872.5,732.4 886.5,733.9 899.5,736.1 913.5,741.1 926.5,745.9 940.5,748.9 953.5,756.0 967.5,761.1 980.5,761.1 994.5,757.9 1007.5,759.4 1021.5,759.6 1034.5,761.7 1048.5,764.1 1061.5,765.0 1075.5,765.0 1088.5,761.6 1102.5,762.0 1115.5,762.3 1129.5,761.1 1142.5,760.2 1156.5,757.7 1169.5,753.2 1183.5,746.6 1196.5,745.1 1210.5,747.0 1223.5,750.7 1237.5,755.8 1250.5,760.4 1264.5,766.2 1277.5,769.7 1291.5,766.2 1304.5,762.3 1318.5,758.8" fill="none" stroke="#cfcfcf" stroke-width="1.5" stroke-linejoin="round"/>
<polyline points="143.5,706.6 156.5,706.6 170.5,710.1 183.5,712.7 197.5,715.5 210.5,717.4 224.5,714.2 237.5,711.3 251.5,708.2 264.5,702.3 278.5,696.0 291.5,688.8 305.5,681.0 318.5,676.4 332.5,671.3 345.5,668.8 359.5,667.2 372.5,667.2 386.5,669.5 399.5,672.8 413.5,676.7 426.5,679.6 440.5,681.7 453.5,683.2 467.5,685.6 480.5,687.4 494.5,691.6 507.5,697.9 521.5,704.2 534.5,711.6 548.5,717.1 561.5,723.6 575.5,728.7 588.5,732.0 602.5,734.3 615.5,735.4 629.5,735.7 642.5,736.0 656.5,736.3 669.5,736.6 683.5,736.8 696.5,736.1 710.5,734.8 723.5,733.9 737.5,733.4 750.5,733.7 764.5,734.0 777.5,734.1 791.5,734.1 804.5,734.1 818.5,733.4 832.5,732.6 845.5,732.0 859.5,732.0 872.5,732.0 886.5,732.0 899.5,732.0 913.5,734.8 926.5,737.5 940.5,739.8 953.5,742.1 967.5,745.9 980.5,748.9 994.5,751.8 1007.5,752.6 1021.5,753.7 1034.5,754.8 1048.5,757.0 1061.5,758.7 1075.5,759.8 1088.5,760.5 1102.5,760.6 1115.5,760.7 1129.5,760.9 1142.5,761.0 1156.5,760.5 1169.5,758.8 1183.5,756.6 1196.5,754.4 1210.5,753.0 1223.5,753.0 1237.5,753.8 1250.5,755.5 1264.5,757.4 1277.5,759.2 1291.5,760.4 1304.5,760.4 1318.5,760.4" fill="none" stroke="#c8c81e" stroke-width="1.5" stroke-linejoin="round"/>
<polyline points="143.5,875.6 156.5,945.5 170.5,981.2 183.5,981.2 197.5,925.5 210.5,892.7 224.5,876.2 237.5,892.7 251.5,885.6 264.5,861.4 278.5,869.9 291.5,852.2 305.5,876.2 318.5,917.8 332.5,902.7 345.5,916.4 359.5,909.0 372.5,922.1 386.5,932.7 399.5,952.7 413.5,952.7 426.5,924.2 440.5,898.5 453.5,924.2 467.5,946.4 480.5,940.5 494.5,970.7 507.5,964.7 521.5,987.0 534.5,966.4 548.5,977.8 561.5,969.3 575.5,948.4 588.5,942.7 602.5,949.3 615.5,931.3 629.5,937.6 642.5,953.6 656.5,957.0 669.5,948.4 683.5,958.4 696.5,928.5 710.5,940.7 723.5,934.8 737.5,941.3 750.5,960.4 764.5,953.6 777.5,955.6 791.5,938.5 804.5,927.0 818.5,914.8 832.5,937.0 845.5,937.7 859.5,945.9 872.5,945.9 886.5,945.9 899.5,945.9 913.5,973.1 926.5,967.1 940.5,971.3 953.5,998.9 967.5,980.1 980.5,960.0 994.5,951.2 1007.5,968.5 1021.5,961.8 1034.5,963.5 1048.5,982.6 1061.5,974.8 1075.5,968.5 1088.5,946.6 1102.5,955.4 1115.5,969.5 1129.5,953.6 1142.5,960.0 1156.5,953.6 1169.5,923.6 1183.5,907.7 1196.5,941.3 1210.5,952.6 1223.5,970.6 1237.5,984.7 1250.5,976.6 1264.5,1002.4 1277.5,994.3 1291.5,951.9 1304.5,944.8 1318.5,944.8" fill="none" stroke="#c81ec8" stroke-width="1.5" stroke-linejoin="round"/>
<text x="130" y="38.7" font-size="18" fill="#e8e8e8" text-anchor="end">3565.01</text>
<text x="1372" y="38.7" font-size="18" fill="#e8e8e8">3565.01</text>
<text x="130" y="121.5" font-size="18" fill="#e8e8e8" text-anchor="end">3459.49</text>
<text x="1372" y="121.5" font-size="18" fill="#e8e8e8">3459.49</text>
<text x="130" y="205.5" font-size="18" fill="#e8e8e8" text-anchor="end">3353.96</text>
<text x="1372" y="205.5" font-size="18" fill="#e8e8e8">3353.96</text>
<text x="130" y="289.5" font-size="18" fill="#e8e8e8" text-anchor="end">3248.44</text>
<text x="1372" y="289.5" font-size="18" fill="#e8e8e8">3248.44</text>
<text x="130" y="373.5" font-size="18" fill="#e8e8e8" text-anchor="end">3142.92</text>
<text x="1372" y="373.5" font-size="18" fill="#e8e8e8">3142.92</text>
<text x="130" y="457.5" font-size="18" fill="#e8e8e8" text-anchor="end">3037.39</text>
<text x="1372" y="457.5" font-size="18" fill="#e8e8e8">3037.39</text>
<text x="130" y="541.5" font-size="18" fill="#e8e8e8" text-anchor="end">2931.87</text>
<text x="1372" y="541.5" font-size="18" fill="#e8e8e8">2931.87</text>
<text x="130" y="656.5" font-size="18" fill="#e8e8e8" text-anchor="end">99.97</text>
<text x="1372" y="656.5" font-size="18" fill="#e8e8e8">99.97</text>
<text x="130" y="697.5" font-size="18" fill="#e8e8e8" text-anchor="end">62.34</text>
<text x="1372" y="697.5" font-size="18" fill="#e8e8e8">62.34</text>
<text x="130" y="739" font-size="18" fill="#e8e8e8" text-anchor="end">24.72</text>
<text x="1372" y="739" font-size="18" fill="#e8e8e8">24.72</text>
<text x="130" y="780.5" font-size="18" fill="#e8e8e8" text-anchor="end">-12.90</text>
<text x="1372" y="780.5" font-size="18" fill="#e8e8e8">-12.90</text>
<text x="130" y="856.5" font-size="18" fill="#e8e8e8" text-anchor="end">77.33</text>
<text x="1372" y="856.5" font-size="18" fill="#e8e8e8">77.33</text>
<text x="130" y="893.5" font-size="18" fill="#e8e8e8" text-anchor="end">68.10</text>
<text x="1372" y="893.5" font-size="18" fill="#e8e8e8">68.10</text>
<text x="130" y="932" font-size="18" fill="#e8e8e8" text-anchor="end">58.86</text>
<text x="1372" y="932" font-size="18" fill="#e8e8e8">58.86</text>
<text x="130" y="970" font-size="18" fill="#e8e8e8" text-anchor="end">49.63</text>
<text x="1372" y="970" font-size="18" fill="#e8e8e8">49.63</text>
<rect x="1368" y="185" width="101" height="25" fill="#000" stroke="#f0a030" stroke-width="2"/>
<text x="1372" y="203.8" font-size="18" fill="#f0a030">3375.26</text>
<rect x="1456" y="171" width="13" height="13" fill="#0c0c0c"/>
<path d="M1457.5 178 L1463 172.5 L1468.5 178 Z M1457.5 184 L1463 178.5 L1468.5 184 Z" fill="#f0a030"/>
<text x="138" y="22" font-size="18" fill="#e0e0e0" >现货黄金</text>
<text x="208" y="22" font-size="19.2" fill="#ff6a00" >【日线】</text>
<circle cx="290" cy="18.5" r="6.3" fill="none" stroke="#ff6a00" stroke-width="1.5"/>
<line x1="283.5" y1="18.5" x2="296.5" y2="18.5" stroke="#ff6a00" stroke-width="1.3"/>
<line x1="290" y1="12" x2="290" y2="25" stroke="#ff6a00" stroke-width="1.3"/>
<rect x="311" y="5" width="17" height="18" fill="#777"/>
<rect x="308.5" y="3.5" width="17" height="18" fill="#fff" stroke="#1a1aa0" stroke-width="1.5"/>
<polyline points="310,13 313,10 316,12 319,8 322,11 324,9" fill="none" stroke="#e00" stroke-width="1.3"/>
<polyline points="310,17 313,14 316,16.5 319,13 322,15.5 324,14" fill="none" stroke="#0030e0" stroke-width="1.3"/>
<text x="331" y="22" font-size="18.5" fill="#e0e0e0" >BOLL(26,2) MID:3343.59</text>
<text x="552" y="22" font-size="18" fill="#c8c800" >UPPER:3411.09</text>
<text x="692" y="22" font-size="18" fill="#d020d0" >LOWER:3276.09</text>
<path d="M840.5 2.5 L848 10 L843.8 10 L843.8 18 L837.2 18 L837.2 10 L833 10 Z" fill="#f00" stroke="#fff" stroke-width="1"/>
<text x="855.5" y="22" font-size="18" fill="#e0e0e0" >VR(26,70,250)</text>
<rect x="1271" y="1" width="96" height="25" fill="#0b0b0b"/>
<rect x="1273" y="3.2" width="19.5" height="19.5" fill="#000" stroke="#b4b4b4" stroke-width="2"/>
<rect x="1297" y="3.2" width="19.5" height="19.5" fill="#000" stroke="#b4b4b4" stroke-width="2"/>
<rect x="1321" y="3.2" width="19.5" height="19.5" fill="#000" stroke="#1e7fd6" stroke-width="2"/>
<rect x="1345" y="3.2" width="19.5" height="19.5" fill="#000" stroke="#b4b4b4" stroke-width="2"/>
<g fill="#b4b4b4"><rect x="1281" y="6" width="3" height="4"/><rect x="1281" y="16" width="3" height="4"/><rect x="1275" y="12" width="4" height="2.5"/><rect x="1286" y="12" width="4" height="2.5"/><rect x="1281.5" y="12" width="2" height="2.5"/></g>
<g stroke="#b4b4b4" stroke-width="1.4" fill="none"><line x1="1301" y1="6.5" x2="1301" y2="19.5"/><line x1="1300" y1="18.5" x2="1313" y2="18.5"/></g>
<path d="M1298.5 8.5 L1301 5.5 L1303.5 8.5Z M1298.5 16.5 L1301 19.5 L1303.5 16.5Z M1311 16 L1314 18.5 L1311 21Z M1303 16 L1300 18.5 L1303 21Z" fill="#b4b4b4"/>
<rect x="1305" y="8.5" width="1.6" height="7" fill="#b4b4b4"/><path d="M1311.5 8 L1307 12 L1311.5 16Z" fill="#b4b4b4"/>
<g stroke="#1e7fd6" stroke-width="1.4" fill="none"><line x1="1325" y1="6.5" x2="1325" y2="19.5"/><line x1="1324" y1="18.5" x2="1337" y2="18.5"/></g>
<path d="M1322.5 8.5 L1325 5.5 L1327.5 8.5Z M1322.5 16.5 L1325 19.5 L1327.5 16.5Z M1335 16 L1338 18.5 L1335 21Z M1327 16 L1324 18.5 L1327 21Z" fill="#1e7fd6"/>
<path d="M1329 7 L1337 12 L1329 17Z" fill="#1e7fd6"/>
<g stroke="#b4b4b4" stroke-width="1.5" fill="none"><rect x="1348.5" y="6.5" width="4" height="13.5"/><line x1="1352" y1="12.5" x2="1359" y2="12.5"/></g><path d="M1357 9 L1361.5 12.5 L1357 16Z" fill="#b4b4b4"/>
<text x="139" y="639" font-size="18" fill="#e0e0e0" >MACD(26,12,9) DIFF:2.85</text>
<text x="363" y="639" font-size="18" fill="#c8c800" >DEA:1.77</text>
<text x="451.5" y="639" font-size="18" fill="#d020d0" >MACD:2.16</text>
<text x="138" y="838" font-size="18" fill="#e0e0e0" >RSI(14,14,14) RSI1:54.81</text>
<text x="358.5" y="838" font-size="18" fill="#c8c800" >RSI2:54.81</text>
<text x="459.5" y="838" font-size="18" fill="#d020d0" >RSI3:54.81</text>
<g stroke="#e00000" stroke-width="1.7"><line x1="50.70" y1="829.00" x2="53.80" y2="829.00"/><line x1="49.02" y1="834.52" x2="51.28" y2="836.78"/><line x1="43.50" y1="836.20" x2="43.50" y2="839.30"/><line x1="37.98" y1="834.52" x2="35.72" y2="836.78"/><line x1="36.30" y1="829.00" x2="33.20" y2="829.00"/><line x1="37.98" y1="823.48" x2="35.72" y2="821.22"/><line x1="43.50" y1="821.80" x2="43.50" y2="818.70"/><line x1="49.02" y1="823.48" x2="51.28" y2="821.22"/></g>
<circle cx="43.5" cy="829" r="5.5" fill="#000"/>
<circle cx="43.5" cy="829" r="4" fill="#ff0000" stroke="#fff" stroke-width="1.8"/>
<text x="403" y="1023" font-size="18" fill="#f0f0f0" font-weight="bold">2025/05</text>
<text x="700" y="1023" font-size="18" fill="#f0f0f0" font-weight="bold">2025/06</text>
<text x="983" y="1023" font-size="18" fill="#f0f0f0" font-weight="bold">2025/07</text>
<text x="1293" y="1023" font-size="18" fill="#f0f0f0" font-weight="bold">2025/08</text>
<rect x="31" y="1005" width="104" height="27" fill="none" stroke="#222" stroke-width="1"/>
<text x="52" y="1027" font-size="18" fill="#ff6a00" font-weight="bold">日线</text>
<path d="M97.5 1025.5 L103.8 1013.5 L110 1025.5Z" fill="#ff6a00"/>
<rect x="29" y="1033" width="1179" height="23" fill="#050505"/>
<rect x="150" y="1033" width="86" height="23" fill="#ff6a00"/>
<rect x="89.5" y="1033" width="1" height="23" fill="#2a2a2a"/>
<rect x="148.5" y="1033" width="1" height="23" fill="#2a2a2a"/>
<rect x="350.5" y="1033" width="1" height="23" fill="#2a2a2a"/>
<rect x="437" y="1033" width="1" height="23" fill="#2a2a2a"/>
<rect x="524.5" y="1033" width="1" height="23" fill="#2a2a2a"/>
<rect x="602" y="1033" width="1" height="23" fill="#2a2a2a"/>
<rect x="680" y="1033" width="1" height="23" fill="#2a2a2a"/>
<rect x="784.5" y="1033" width="1" height="23" fill="#2a2a2a"/>
<rect x="854" y="1033" width="1" height="23" fill="#2a2a2a"/>
<rect x="932.5" y="1033" width="1" height="23" fill="#2a2a2a"/>
<rect x="1002" y="1033" width="1" height="23" fill="#2a2a2a"/>
<rect x="1089.5" y="1033" width="1" height="23" fill="#2a2a2a"/>
<rect x="1167.5" y="1033" width="1" height="23" fill="#2a2a2a"/>
<text x="41" y="1052" font-size="18" fill="#e8e8e8" >指标</text>
<text x="101" y="1052" font-size="18" fill="#e8e8e8" >模板</text>
<text x="160" y="1052" font-size="17" fill="#ffffff" font-family="Liberation Mono, monospace">VIP指标</text>
<text x="249" y="1051" font-size="14.7" fill="#c4c4c4" font-family="Liberation Mono, monospace">BARUPDN_UD</text>
<text x="362" y="1051" font-size="14.7" fill="#c4c4c4" font-family="Liberation Mono, monospace">BIAS_UD</text>
<text x="449" y="1051" font-size="14.7" fill="#c4c4c4" font-family="Liberation Mono, monospace">BOLL_UD</text>
<text x="536" y="1051" font-size="14.7" fill="#c4c4c4" font-family="Liberation Mono, monospace">CCI_UD</text>
<text x="614" y="1051" font-size="14.7" fill="#c4c4c4" font-family="Liberation Mono, monospace">DMI_UD</text>
<text x="692.5" y="1051" font-size="14.7" fill="#c4c4c4" font-family="Liberation Mono, monospace">INSIDE_UD</text>
<text x="797" y="1051" font-size="14.7" fill="#c4c4c4" font-family="Liberation Mono, monospace">KD_UD</text>
<text x="866" y="1051" font-size="14.7" fill="#c4c4c4" font-family="Liberation Mono, monospace">KDJ_UD</text>
<text x="944" y="1051" font-size="14.7" fill="#c4c4c4" font-family="Liberation Mono, monospace">MA_UD</text>
<text x="1014" y="1051" font-size="14.7" fill="#c4c4c4" font-family="Liberation Mono, monospace">MACD_UD</text>
<text x="1100" y="1051" font-size="14.7" fill="#c4c4c4" font-family="Liberation Mono, monospace">MTM_UD</text>
<text x="1179" y="1051" font-size="14.7" fill="#c4c4c4" font-family="Liberation Mono, monospace">&gt;&gt;</text>
<text x="1341.5" y="1031" font-size="30.5" fill="#e6ecf6" letter-spacing="2.6">FX678</text>
</svg></body></html>
